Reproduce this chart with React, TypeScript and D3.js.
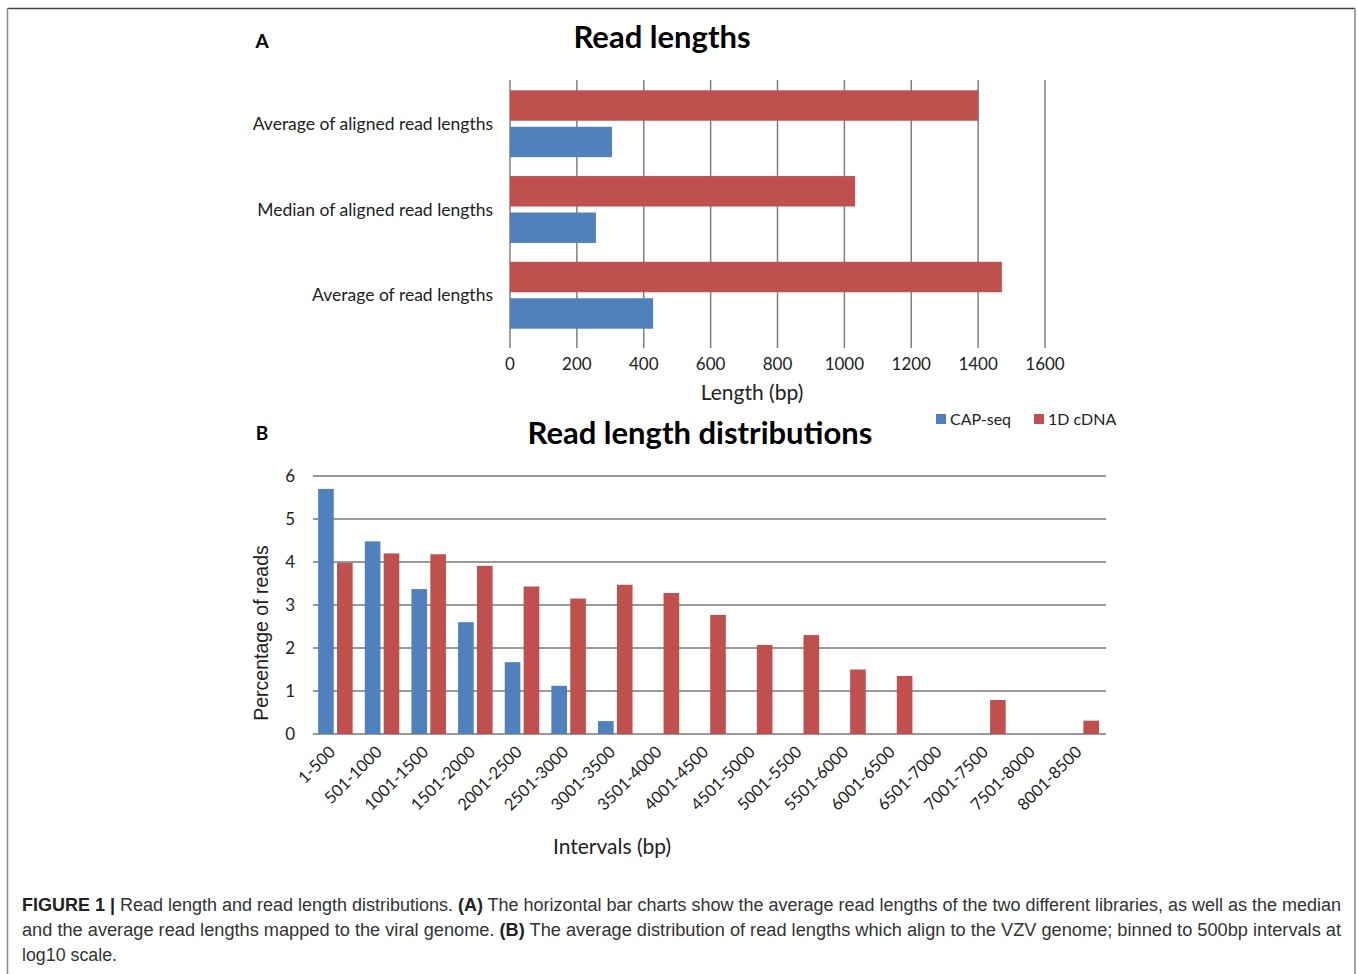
import { useEffect } from 'react';
import * as d3 from 'd3';

// Panel A - horizontal bars
const lengthCategories = ['Average of aligned read lengths', 'Median of aligned read lengths', 'Average of read lengths'];
const capSeqLengths = [305, 257, 428];
const cdnaLengths = [1400, 1032, 1471];
const lengthTicks = [0, 200, 400, 600, 800, 1000, 1200, 1400, 1600];

// Panel B - vertical bars
const intervals = [
  '1-500', '501-1000', '1001-1500', '1501-2000', '2001-2500', '2501-3000', '3001-3500', '3501-4000',
  '4001-4500', '4501-5000', '5001-5500', '5501-6000', '6001-6500', '6501-7000', '7001-7500', '7501-8000', '8001-8500',
];
const capSeqPct = [5.7, 4.48, 3.37, 2.6, 1.67, 1.12, 0.3, 0, 0, 0, 0, 0, 0, 0, 0, 0, 0];
const cdnaPct = [3.98, 4.2, 4.18, 3.91, 3.43, 3.15, 3.47, 3.28, 2.77, 2.07, 2.3, 1.5, 1.35, 0, 0.79, 0, 0.31];
const pctTicks = [0, 1, 2, 3, 4, 5, 6];

const series = [
  { name: 'CAP-seq', color: '#4F81BD' },
  { name: '1D cDNA', color: '#C0504D' },
];

const FONT = 'Lato, "Open Sans", sans-serif';
const CAPTION_FONT = '"Liberation Sans", Arial, sans-serif';

export default function App() {
  useEffect(() => {
    document.body.style.margin = '0';
  }, []);

  // ---- Panel A scales
  const xA = d3.scaleLinear().domain([0, 1600]).range([510, 1045]);
  const yA = d3.scaleBand().domain(lengthCategories).range([80, 339]).paddingInner(0.22).paddingOuter(0.12);
  const halfA = yA.bandwidth() / 2;

  // ---- Panel B scales
  const xB = d3.scaleBand().domain(intervals).range([313, 1106]);
  const yB = d3.scaleLinear().domain([0, 6]).range([734, 476]);
  const bw = xB.bandwidth();
  const barW = bw * 0.335;

  return (
    <svg width={1357} height={974} style={{ display: 'block', background: '#fff' }}>
      {/* frame */}
      <line x1={7.5} y1={8.5} x2={1355} y2={8.5} stroke="#444" strokeWidth={1.5} />
      <line x1={7.5} y1={8} x2={7.5} y2={974} stroke="#888" strokeWidth={1.5} />
      <line x1={1355} y1={8} x2={1355} y2={974} stroke="#888" strokeWidth={1.5} />

      {/* ===== Panel A ===== */}
      <text x={262} y={48} fontFamily={FONT} fontWeight="bold" fontSize={19} textAnchor="middle">A</text>
      <text x={662} y={48} fontFamily={FONT} fontWeight="bold" fontSize={31} textAnchor="middle">Read lengths</text>

      {lengthTicks.map(t => (
        <g key={t}>
          <line x1={xA(t)} x2={xA(t)} y1={80} y2={348} stroke="#808080" strokeWidth={1.5} />
          <text x={xA(t)} y={370} fontFamily={FONT} fontSize={17} textAnchor="middle" fill="#222">{t}</text>
        </g>
      ))}

      {lengthCategories.map((c, i) => (
        <g key={c}>
          <rect x={xA(0)} y={yA(c)!} width={xA(cdnaLengths[i]) - xA(0)} height={halfA - 3} fill={series[1].color} />
          <rect x={xA(0)} y={yA(c)! + halfA + 3} width={xA(capSeqLengths[i]) - xA(0)} height={halfA - 3} fill={series[0].color} />
          <text x={493} y={yA(c)! + halfA + 6} fontFamily={FONT} fontSize={17.5} textAnchor="end" fill="#222">{c}</text>
        </g>
      ))}
      <text x={752} y={400} fontFamily={FONT} fontSize={21} textAnchor="middle" fill="#222">Length (bp)</text>

      {/* ===== Panel B ===== */}
      <text x={262} y={440} fontFamily={FONT} fontWeight="bold" fontSize={19} textAnchor="middle">B</text>
      <text x={700} y={444} fontFamily={FONT} fontWeight="bold" fontSize={31} textAnchor="middle">Read length distributions</text>

      {/* legend */}
      {series.map((s, i) => (
        <g key={s.name} transform={`translate(${i === 0 ? 936 : 1034},414)`}>
          <rect x={0} y={0} width={10} height={10} fill={s.color} />
          <text x={14} y={11} fontFamily={FONT} fontSize={16} fill="#222">{s.name}</text>
        </g>
      ))}

      {pctTicks.map(t => (
        <g key={t}>
          <line x1={313} x2={1106} y1={yB(t)} y2={yB(t)} stroke="#999" strokeWidth={2} />
          <text x={295} y={yB(t) + 6} fontFamily={FONT} fontSize={17} textAnchor="end" fill="#222">{t}</text>
        </g>
      ))}

      {intervals.map((c, i) => {
        const x0 = xB(c)!;
        return (
          <g key={c}>
            {capSeqPct[i] > 0 && (
              <rect x={x0 + bw * 0.11} y={yB(capSeqPct[i])} width={barW} height={yB(0) - yB(capSeqPct[i])} fill={series[0].color} />
            )}
            {cdnaPct[i] > 0 && (
              <rect x={x0 + bw * 0.515} y={yB(cdnaPct[i])} width={barW} height={yB(0) - yB(cdnaPct[i])} fill={series[1].color} />
            )}
            <text
              transform={`translate(${x0 + bw / 2},${753}) rotate(-45)`}
              fontFamily={FONT}
              fontSize={16.5}
              textAnchor="end"
              fill="#222"
            >
              {c}
            </text>
          </g>
        );
      })}

      <text
        transform={`translate(268,633) rotate(-90)`}
        fontFamily={CAPTION_FONT}
        fontSize={19.5}
        textAnchor="middle"
        fill="#222"
      >
        Percentage of reads
      </text>
      <text x={612} y={854} fontFamily={FONT} fontSize={21} textAnchor="middle" fill="#222">Intervals (bp)</text>

      {/* caption */}
      <g fontFamily={CAPTION_FONT} fontSize={18} fill="#333">
        <text x={22} y={911} textLength={1319} lengthAdjust="spacingAndGlyphs">
          <tspan fontWeight="bold" fill="#222">FIGURE 1 |</tspan> Read length and read length distributions. <tspan fontWeight="bold" fill="#222">(A)</tspan> The horizontal bar charts show the average read lengths of the two different libraries, as well as the median
        </text>
        <text x={22} y={936} textLength={1319} lengthAdjust="spacingAndGlyphs">
          and the average read lengths mapped to the viral genome. <tspan fontWeight="bold" fill="#222">(B)</tspan> The average distribution of read lengths which align to the VZV genome; binned to 500bp intervals at
        </text>
        <text x={22} y={961} textLength={95} lengthAdjust="spacingAndGlyphs">log10 scale.</text>
      </g>
    </svg>
  );
}
